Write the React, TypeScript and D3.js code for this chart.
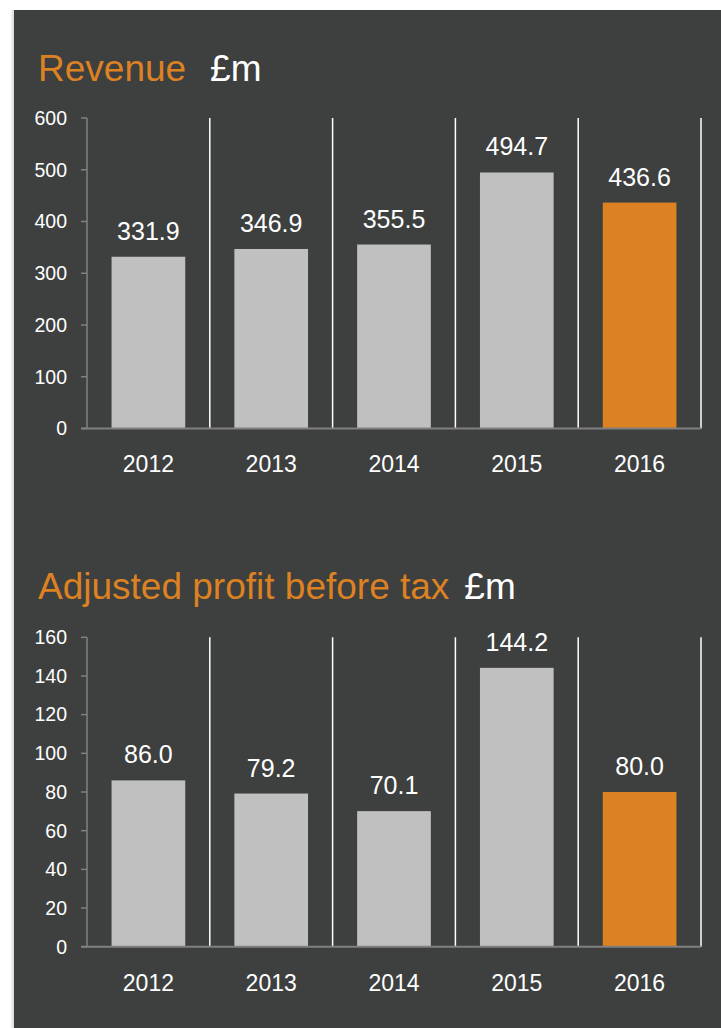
import React from "react";
import * as d3 from "d3";

const years = ["2012", "2013", "2014", "2015", "2016"];
const revenue = [331.9, 346.9, 355.5, 494.7, 436.6];
const profit = [86.0, 79.2, 70.1, 144.2, 80.0];
const revenueTicks = [0, 100, 200, 300, 400, 500, 600];
const profitTicks = [0, 20, 40, 60, 80, 100, 120, 140, 160];

const BG = "#3e3f3f";
const GREY_BAR = "#c0c0c0";
const ORANGE = "#dc8222";
const AXIS = "#808080";
const FONT = "'Liberation Sans', Arial, sans-serif";

type PanelProps = {
  values: number[];
  ticks: number[];
  max: number;
  top: number;
  bottom: number;
  titleY: number;
  title: string;
  gap: number;
  labelY: number;
};

function Panel({ values, ticks, max, top, bottom, titleY, title, gap, labelY }: PanelProps) {
  const x = d3.scaleBand<string>().domain(years).range([87, 701]).paddingInner(0.4).paddingOuter(0.2);
  const y = d3.scaleLinear().domain([0, max]).range([bottom, top]);
  const step = x.step();
  return (
    <g>
      <text x={38} y={titleY} fontFamily={FONT} fontSize={37} fill={ORANGE}>
        {title}
        <tspan fill="#ffffff" dx={gap}>£m</tspan>
      </text>
      {years.map((yr, i) => (
        <line
          key={"sep" + yr}
          x1={87 + step * (i + 1)}
          x2={87 + step * (i + 1)}
          y1={top}
          y2={bottom}
          stroke="#ffffff"
          strokeWidth={1.5}
        />
      ))}
      {years.map((yr, i) => (
        <rect
          key={"bar" + yr}
          x={x(yr)!}
          y={y(values[i])}
          width={x.bandwidth()}
          height={bottom - y(values[i])}
          fill={i === years.length - 1 ? ORANGE : GREY_BAR}
        />
      ))}
      {years.map((yr, i) => (
        <text
          key={"val" + yr}
          x={x(yr)! + x.bandwidth() / 2}
          y={y(values[i]) - 17}
          textAnchor="middle"
          fontFamily={FONT}
          fontSize={25}
          fill="#ffffff"
        >
          {values[i].toFixed(1)}
        </text>
      ))}
      <line x1={87} x2={87} y1={top} y2={bottom} stroke={AXIS} strokeWidth={1.5} />
      {ticks.map((t) => (
        <g key={"t" + t}>
          <line x1={81} x2={87} y1={y(t)} y2={y(t)} stroke={AXIS} strokeWidth={1.5} />
          <text
            x={67}
            y={y(t)}
            dy="0.35em"
            textAnchor="end"
            fontFamily={FONT}
            fontSize={19.5}
            fill="#ffffff"
          >
            {t}
          </text>
        </g>
      ))}
      <line x1={81} x2={701} y1={bottom} y2={bottom} stroke={AXIS} strokeWidth={2} />
      {years.map((yr) => (
        <text
          key={"lab" + yr}
          x={x(yr)! + x.bandwidth() / 2}
          y={labelY}
          textAnchor="middle"
          fontFamily={FONT}
          fontSize={23}
          fill="#ffffff"
        >
          {yr}
        </text>
      ))}
    </g>
  );
}

export default function App() {
  return (
    <svg
      width={721}
      height={1028}
      style={{ position: "absolute", left: 0, top: 0 }}
    >
      <defs>
        <linearGradient id="shadow" x1="0" x2="1" y1="0" y2="0">
          <stop offset="0" stopColor="#ffffff" />
          <stop offset="1" stopColor="#d8d8d8" />
        </linearGradient>
      </defs>
      <rect x={0} y={0} width={721} height={1028} fill="#ffffff" />
      <rect x={10} y={10} width={4} height={1018} fill="url(#shadow)" />
      <rect x={14} y={10} width={707} height={1018} fill={BG} />
      <Panel
        values={revenue}
        ticks={revenueTicks}
        max={600}
        top={118}
        bottom={428.5}
        titleY={81}
        title="Revenue"
        gap={24}
        labelY={472}
      />
      <Panel
        values={profit}
        ticks={profitTicks}
        max={160}
        top={637.3}
        bottom={946.7}
        titleY={599}
        title="Adjusted profit before tax"
        gap={15}
        labelY={991}
      />
    </svg>
  );
}
